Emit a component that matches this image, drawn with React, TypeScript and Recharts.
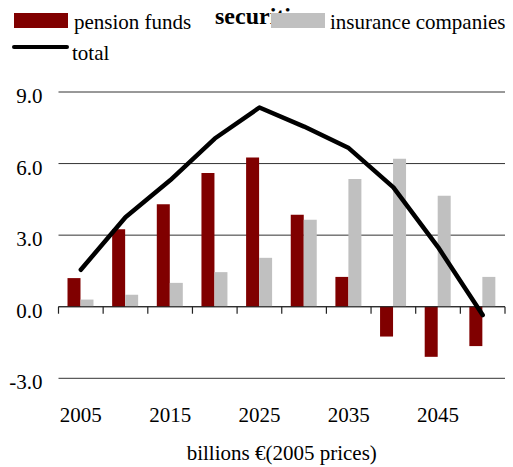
import {
  Bar,
  CartesianGrid,
  ComposedChart,
  Legend,
  Line,
  ReferenceLine,
  XAxis,
  YAxis,
} from "recharts";

const years = ["2005", "2010", "2015", "2020", "2025", "2030", "2035", "2040", "2045", "2050"];
const pensionFunds = [1.2, 3.25, 4.3, 5.6, 6.25, 3.85, 1.25, -1.25, -2.1, -1.65];
const insuranceCompanies = [0.3, 0.5, 1.0, 1.45, 2.05, 3.65, 5.35, 6.2, 4.65, 1.25];
const total = [1.55, 3.75, 5.3, 7.05, 8.35, 7.55, 6.65, 5.0, 2.5, -0.35];
const yTicks = [-3, 0, 3, 6, 9];

const FONT = "Liberation Serif";
const RED = "#800000";
const GRAY = "#c0c0c0";

const data = years.map((year, i) => ({
  year,
  pension: pensionFunds[i],
  insurance: insuranceCompanies[i],
  total: total[i],
}));

function YTick({ x, y, payload }: any) {
  return (
    <text x={x} y={y} dy={11} textAnchor="end" style={{ fontFamily: FONT, fontSize: 21 }} fill="#000">
      {Number(payload.value).toFixed(1)}
    </text>
  );
}

function XTick({ x, y, payload }: any) {
  return (
    <text x={x} y={y} dy={44} textAnchor="middle" style={{ fontFamily: FONT, fontSize: 21 }} fill="#000">
      {payload.value}
    </text>
  );
}

// zero axis with tick marks on category boundaries
function ZeroAxis({ x1, y1, x2 }: any) {
  const step = (x2 - x1) / years.length;
  const marks = [];
  for (let i = 0; i <= years.length; i++) {
    const x = x1 + step * i;
    marks.push(<line key={i} x1={x} y1={y1} x2={x} y2={y1 + 7} stroke="#222" strokeWidth={1.2} />);
  }
  return (
    <g>
      <line x1={x1} y1={y1} x2={x2} y2={y1} stroke="#222" strokeWidth={1.2} />
      {marks}
    </g>
  );
}

function ChartLegend() {
  const text = { style: { fontFamily: FONT, fontSize: 21 }, fill: "#000" };
  return (
    <svg width={513} height={70} style={{ display: "block" }}>
      <text x={215} y={24} style={{ fontFamily: FONT, fontSize: 24, fontWeight: "bold" }} fill="#000">
        securities
      </text>
      <rect x={14} y={13} width={54} height={15} fill={RED} />
      <text x={74} y={29} {...text}>
        pension funds
      </text>
      <rect x={271} y={13} width={54} height={15} fill={GRAY} />
      <text x={330} y={29} {...text}>
        insurance companies
      </text>
      <line x1={14} y1={47} x2={67} y2={47} stroke="#000" strokeWidth={4} strokeLinecap="round" />
      <text x={72} y={60} {...text}>
        total
      </text>
    </svg>
  );
}

export default function App() {
  return (
    <div style={{ position: "absolute", left: 0, top: 0, width: 513, height: 467, background: "#fff", fontFamily: FONT }}>
      <ComposedChart
        width={513}
        height={467}
        data={data}
        margin={{ top: 92, right: 8, bottom: 0, left: 0 }}
        barGap={0}
      >
        <CartesianGrid vertical={false} stroke="#333" strokeWidth={1} />
        <XAxis
          dataKey="year"
          height={88.7}
          interval={1}
          axisLine={false}
          tickLine={false}
          tickSize={0}
          tickMargin={0}
          tick={<XTick />}
          label={{
            value: "billions €(2005 prices)",
            position: "insideBottom",
            offset: 7.5,
            style: { fontFamily: FONT, fontSize: 21, fill: "#000" },
          }}
        />
        <YAxis
          width={58.5}
          domain={[-3, 9]}
          ticks={yTicks}
          axisLine={false}
          tickLine={false}
          tickSize={0}
          tickMargin={16}
          tick={<YTick />}
        />
        <Legend
          layout="horizontal"
          verticalAlign="middle"
          align="center"
          wrapperStyle={{ top: 0, left: 0, width: 513, height: 70 }}
          content={() => <ChartLegend />}
        />
        <Bar dataKey="pension" name="pension funds" fill={RED} barSize={13} isAnimationActive={false} />
        <Bar dataKey="insurance" name="insurance companies" fill={GRAY} barSize={13} isAnimationActive={false} />
        <ReferenceLine y={0} shape={<ZeroAxis />} />
        <Line
          dataKey="total"
          name="total"
          type="linear"
          stroke="#000"
          strokeWidth={4.5}
          strokeLinejoin="round"
          strokeLinecap="round"
          dot={false}
          activeDot={false}
          isAnimationActive={false}
        />
      </ComposedChart>
    </div>
  );
}
